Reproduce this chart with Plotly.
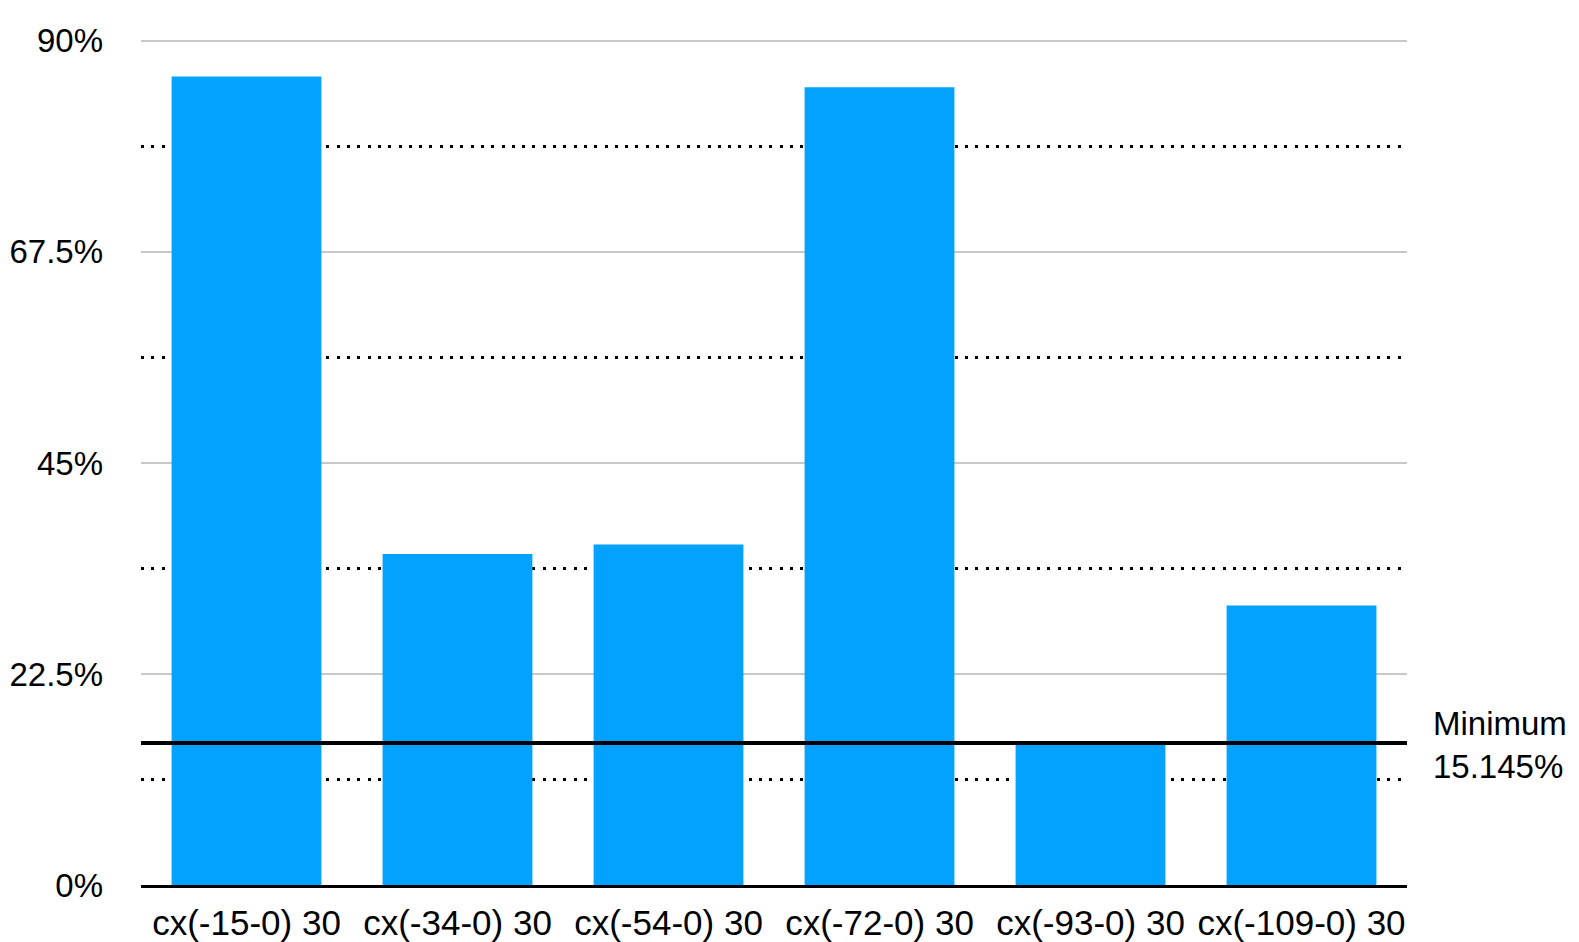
import plotly.graph_objects as go

# data
categories = ['cx(-15-0) 30', 'cx(-34-0) 30', 'cx(-54-0) 30',
              'cx(-72-0) 30', 'cx(-93-0) 30', 'cx(-109-0) 30']
values = [86.2, 35.3, 36.3, 85.05, 15.145, 29.8]
minimum_value = 15.145
y_ticks = [0, 22.5, 45, 67.5, 90]
y_tick_labels = ['0%', '22.5%', '45%', '67.5%', '90%']

font_family = 'Liberation Sans, Helvetica, Arial, sans-serif'

fig = go.Figure()

fig.add_trace(go.Bar(
    x=categories,
    y=values,
    marker=dict(color='#03a2ff', line=dict(width=0)),
    hovertemplate='%{x}: %{y}%<extra></extra>',
))

# minimum reference line
fig.add_hline(
    y=minimum_value,
    line=dict(color='black', width=4),
    layer='above',
)
fig.add_annotation(
    xref='paper', yref='y',
    x=1.019, y=minimum_value, yshift=-2,
    text=f'Minimum<br>{minimum_value}%',
    showarrow=False,
    xanchor='left', yanchor='middle', align='left',
    font=dict(size=33, color='black', family=font_family),
)

fig.update_layout(
    width=1579,
    height=942,
    margin=dict(l=133, r=180, t=31, b=65),
    plot_bgcolor='white',
    paper_bgcolor='white',
    showlegend=False,
    bargap=0.29,
    font=dict(family=font_family, size=33, color='black'),
    xaxis=dict(
        showgrid=False,
        showline=True, linecolor='black', linewidth=3,
        ticks='', ticklabelstandoff=5,
        tickfont=dict(size=35, color='black'),
        zeroline=False,
        automargin=False,
    ),
    yaxis=dict(
        range=[0, 90.2],
        tickmode='array',
        tickvals=y_ticks,
        ticktext=y_tick_labels,
        showgrid=True, gridcolor='#c8c8c8', gridwidth=1.5,
        zeroline=False, showline=False,
        ticks='', ticklabelstandoff=37,
        tickfont=dict(size=33, color='black'),
        automargin=False,
        minor=dict(
            tickmode='linear', tick0=11.25, dtick=22.5,
            showgrid=True, gridcolor='black', gridwidth=3,
            griddash='3px,7.3px',
        ),
    ),
)

fig.write_html('out.html')
